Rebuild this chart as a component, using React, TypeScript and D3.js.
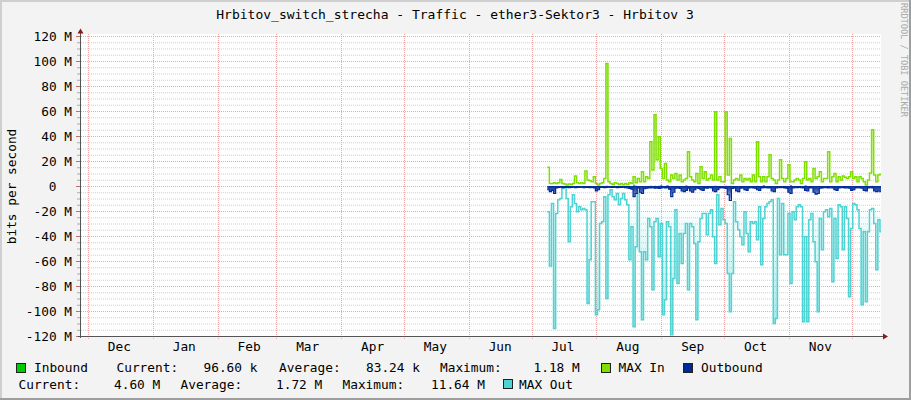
import React from "react";
import * as d3 from "d3";

const W = 911;
const H = 400;
const FONT = "'DejaVu Sans Mono', monospace";

const title = "Hrbitov_switch_strecha - Traffic - ether3-Sektor3 - Hrbitov 3";
const yAxisTitle = "bits per second";
const watermark = "RRDTOOL / TOBI OETIKER";

// y ticks in M (major every 20, minor every 5)
const yMajor = [-120, -100, -80, -60, -40, -20, 0, 20, 40, 60, 80, 100, 120];
const yMinor = d3.range(-120, 121, 5).filter((v) => v % 20 !== 0);

// time range of the graph
const rangeStart = new Date(Date.UTC(2022, 10, 27, 15, 42));
const rangeEnd = new Date(Date.UTC(2023, 11, 15, 0, 0));
const dataStart = Date.UTC(2023, 6, 8, 12, 0);
const DAY = 86400000;

// daily values in Mbit/s
const maxIn = [
  15, 2, 2, 2.7, 2, 2.7, 5.3, 2, 1.6, 0.8,
  1.6, 1.3, 2, 8, 2.7, 2, 2.7, 2, 12, 4.8,
  4.3, 3.5, 7.5, 2, 0.8, 2, 2.7, 6, 98, 3.5,
  2, 1.3, 2.7, 2, 1.3, 2, 1, 2, 1.3, 2.7,
  2, 7.5, 2.7, 6, 3.5, 11.5, 3.5, 7.5, 6, 35.5,
  12.8, 57, 21, 39.5, 14, 6, 18, 4.8, 3.5, 8.8,
  6, 10, 4.8, 8.8, 3.5, 4.8, 6, 27.5, 7.5, 4.8,
  3.5, 10, 2, 15.5, 6, 11.5, 4.8, 6, 8.8, 4.8,
  59.5, 4.8, 7.5, 3.5, 3.5, 59.5, 8.8, 38, 2, 4.8,
  6, 4.8, 8.8, 3.5, 6, 4.8, 6, 3.5, 8.8, 3.5,
  35.5, 7.5, 3.5, 7.5, 3.5, 7.5, 25, 6, 4.8, 2,
  4.8, 21, 6, 3.5, 6, 17, 3.5, 3.5, 4.8, 6,
  4.8, 2, 6, 19.5, 4.8, 6, 3.5, 14, 6, 7.5,
  11.5, 3.5, 6, 6, 27.5, 3.5, 7.5, 10, 3.5, 7.5,
  4.8, 8, 7, 6, 7.5, 11.5, 6, 7.5, 3.5, 7.5,
  6, 3.5, 0.8, 4.8, 10.5, 45, 8.8, 3.5, 8.8, 9.5,
];

const maxOut = [
  20.5, 64, 14, 114, 22, 11, 10, 2, 1, 10,
  44.5, 16.5, 7, 14, 20.5, 16.5, 19, 18, 19, 94,
  59, 12.5, 12.5, 103, 99, 30, 28.5, 8.5, 90, 7,
  3, 8.5, 11, 6, 15, 10, 6, 11, 15, 59,
  32.5, 112.5, 48.5, 6, 52.5, 107, 52.5, 59, 26, 32.5,
  83, 28.5, 26, 56.5, 30, 103, 91, 28.5, 32.5, 119,
  74, 19, 78, 38, 62, 38, 30, 83, 30, 32.5,
  46, 107, 44.5, 26, 22, 22, 39, 22, 19, 40.5,
  62, 7, 31, 18, 27, 30, 70, 100.5, 70, 12.5,
  28.5, 35, 40.5, 47, 20.5, 38, 52.5, 28.5, 30, 28.5,
  43, 16.5, 63, 26, 16.5, 14, 12.5, 11, 110, 106,
  10, 55, 14, 55, 55, 22, 78, 20.5, 27, 16.5,
  15, 16.5, 108.5, 40.5, 108.5, 27, 22, 44.5, 60.5, 100.5,
  26, 51, 20.5, 19, 24.5, 18, 76.5, 26, 58, 15,
  16.5, 51, 16.5, 26, 88.5, 34, 14, 15, 19, 34,
  95, 36.5, 92.5, 36.5, 19, 18, 30, 67, 27, 36.5,
];

const outbound = [
  3, 4.5, 3.5, 6, 1.5, 1.2, 1, 1.3, 1.1, 1.2,
  1.4, 1.2, 1, 1.3, 1.1, 1.2, 1, 1.4, 1.2, 1.1,
  1.3, 1.2, 1.5, 4, 3, 1.2, 1.1, 1.3, 1.2, 1,
  1.1, 1.2, 1, 1.3, 1.1, 1.2, 1, 1.4, 1.6, 2,
  2.5, 8.5, 6, 1.5, 5, 6, 2.2, 1.8, 1.5, 1.6,
  1.4, 1.8, 1.5, 2, 1.6, 1.4, 1.5, 1.3, 2.5, 8.5,
  5, 1.8, 1.5, 2, 4, 4.5, 3.5, 1.8, 4, 5,
  3, 1.6, 2, 3, 3.5, 1.5, 1.8, 1.4, 1.6, 4,
  4.5, 3, 1.5, 1.3, 1.6, 2, 7, 11.6, 2, 1.5,
  4, 4.5, 1.8, 1.5, 3, 3.5, 1.6, 1.4, 1.5, 1.7,
  3, 3.5, 1.5, 1.3, 1.4, 1.6, 1.5, 4, 4.5, 1.5,
  1.3, 1.4, 1.2, 1.5, 1.8, 5, 6, 1.6, 1.4, 1.3,
  1.2, 1.4, 1.5, 3.5, 4, 1.5, 1.6, 5, 6.5, 6,
  1.8, 1.5, 1.4, 1.3, 1.5, 1.4, 1.6, 3, 3.5, 1.5,
  1.4, 1.3, 1.5, 1.6, 1.8, 3.5, 3, 1.5, 1.4, 1.6,
  1.8, 3.5, 4, 1.5, 1.4, 1.6, 4, 4.5, 4, 4.6,
];

const inbound = [
  0.1, 0.1, 0.1, 0.1, 0.1, 0.1, 0.1, 0.1, 0.1, 0.1,
  0.1, 0.1, 0.1, 0.1, 0.1, 0.1, 0.1, 0.1, 0.1, 0.1,
  0.1, 0.1, 0.1, 0.1, 0.1, 0.1, 0.1, 0.1, 0.2, 0.1,
  0.1, 0.1, 0.1, 0.1, 0.1, 0.1, 0.1, 0.1, 0.1, 0.1,
  0.1, 1.18, 0.3, 0.1, 0.1, 0.1, 0.1, 0.1, 0.1, 0.2,
  0.1, 0.3, 0.1, 0.2, 0.9, 0.1, 0.1, 0.8, 0.1, 0.1,
  0.1, 0.1, 0.1, 0.1, 0.1, 0.1, 0.7, 0.1, 0.1, 0.1,
  0.1, 0.1, 0.1, 0.1, 0.1, 0.1, 0.1, 0.1, 0.1, 0.1,
  0.3, 0.1, 0.1, 0.1, 0.1, 0.3, 0.1, 0.2, 0.1, 0.1,
  0.1, 0.1, 0.1, 0.1, 0.1, 0.1, 0.1, 0.1, 0.1, 0.1,
  0.2, 0.1, 0.1, 0.8, 0.1, 0.1, 0.1, 0.1, 0.1, 0.1,
  0.1, 0.1, 0.1, 0.1, 0.1, 0.1, 0.9, 0.1, 0.1, 0.1,
  0.1, 0.1, 0.1, 0.7, 0.1, 0.1, 0.1, 0.1, 0.1, 0.1,
  0.1, 0.1, 0.1, 0.1, 0.1, 0.1, 0.1, 0.1, 0.1, 0.1,
  0.1, 0.1, 0.1, 0.1, 0.1, 0.1, 0.1, 0.1, 0.1, 0.1,
  0.1, 0.1, 0.1, 0.1, 0.1, 0.2, 0.1, 0.1, 0.1, 0.1,
];

// legend texts
const legendRow1 = [
  { text: "Inbound", x: 34 },
  { text: "Current:", x: 116.5 },
  { text: "96.60 k", x: 203.5 },
  { text: "Average:", x: 279 },
  { text: "83.24 k", x: 366 },
  { text: "Maximum:", x: 440 },
  { text: "1.18 M", x: 533.5 },
  { text: "MAX In", x: 618.5 },
  { text: "Outbound", x: 701 },
];
const legendRow2 = [
  { text: "Current:", x: 18.5 },
  { text: "4.60 M", x: 114 },
  { text: "Average:", x: 180.5 },
  { text: "1.72 M", x: 276 },
  { text: "Maximum:", x: 342.5 },
  { text: "11.64 M", x: 431 },
  { text: "MAX Out", x: 519 },
];

const C_IN = "#00CC00";
const C_MAXIN = "#7FE000";
const C_OUT = "#002A97";
const C_MAXOUT = "#4FD2D2";

type Pt = { t: Date; v: number };

function series(vals: number[], sign: number): Pt[] {
  const pts = vals.map((v, i) => ({ t: new Date(dataStart + i * DAY), v: sign * v }));
  pts.push({ t: new Date(dataStart + vals.length * DAY), v: sign * vals[vals.length - 1] });
  return pts;
}

function fmtY(v: number) {
  return v === 0 ? "0" : `${v} M`;
}

export default function App() {
  const plotL = 81;
  const plotR = 881;
  const plotT = 34;
  const plotB = 336;
  const x = d3.scaleUtc().domain([rangeStart, rangeEnd]).range([plotL, plotR]);
  const y = d3.scaleLinear().domain([-120, 120]).range([336, 36]);

  const line = d3
    .line<Pt>()
    .x((d) => x(d.t))
    .y((d) => y(d.v))
    .curve(d3.curveStepAfter);
  const area = d3
    .area<Pt>()
    .x((d) => x(d.t))
    .y0(y(0))
    .y1((d) => y(d.v))
    .curve(d3.curveStepAfter);

  const months = d3.utcMonth.range(d3.utcMonth.ceil(rangeStart), rangeEnd);
  const monthLabels = months
    .map((m) => ({ m, t: d3.utcDay.offset(m, 15) }))
    .filter((d) => d.t <= rangeEnd);
  const fmtMonth = d3.utcFormat("%b");

  const inPts = series(inbound, 1);
  const maxInPts = series(maxIn, 1);
  const outPts = series(outbound, -1);
  const maxOutPts = series(maxOut, -1);

  const charW = 7.71;

  return (
    <svg
      width={W}
      height={H}
      style={{ position: "absolute", left: 0, top: 0, display: "block" }}
      fontFamily={FONT}
    >
      <defs>
        <clipPath id="plotClip">
          <rect x={plotL} y={plotT} width={plotR - plotL} height={plotB - plotT} />
        </clipPath>
        <linearGradient id="outGrad" gradientUnits="userSpaceOnUse" x1={0} x2={0} y1={y(0)} y2={y(-12)}>
          <stop offset="0" stopColor={C_OUT} stopOpacity={1} />
          <stop offset="1" stopColor={C_OUT} stopOpacity={0.15} />
        </linearGradient>
        <linearGradient id="inGrad" gradientUnits="userSpaceOnUse" x1={0} x2={0} y1={y(0)} y2={y(2)}>
          <stop offset="0" stopColor={C_IN} stopOpacity={1} />
          <stop offset="1" stopColor={C_IN} stopOpacity={0.4} />
        </linearGradient>
        <linearGradient id="maxOutGrad" gradientUnits="userSpaceOnUse" x1={0} x2={0} y1={y(-15)} y2={y(-100)}>
          <stop offset="0" stopColor={C_MAXOUT} stopOpacity={0} />
          <stop offset="1" stopColor={C_MAXOUT} stopOpacity={0.45} />
        </linearGradient>
        <linearGradient id="maxInGrad" gradientUnits="userSpaceOnUse" x1={0} x2={0} y1={y(8)} y2={y(60)}>
          <stop offset="0" stopColor={C_MAXIN} stopOpacity={0} />
          <stop offset="1" stopColor={C_MAXIN} stopOpacity={0.45} />
        </linearGradient>
      </defs>

      {/* background and frame */}
      <rect x={0} y={0} width={W} height={H} fill="#F3F3F3" />
      <rect x={0} y={0} width={W} height={2} fill="#CFCFCF" />
      <rect x={0} y={0} width={2} height={H} fill="#CFCFCF" />
      <rect x={0} y={H - 2} width={W} height={2} fill="#9E9E9E" />
      <rect x={W - 2} y={0} width={2} height={H} fill="#9E9E9E" />

      {/* canvas */}
      <rect x={plotL} y={plotT} width={plotR - plotL} height={plotB - plotT} fill="#FFFFFF" />

      {/* minor grid */}
      {yMinor.map((v) => (
        <g key={`mi${v}`}>
          <line x1={plotL} x2={plotR} y1={y(v) + 0.5} y2={y(v) + 0.5} stroke="#CFCFCF" strokeDasharray="1 1" />
          <line x1={77} x2={81} y1={y(v) + 0.5} y2={y(v) + 0.5} stroke="#AAAAAA" />
        </g>
      ))}
      {/* major grid */}
      {yMajor.map((v) => (
        <g key={`ma${v}`}>
          <line x1={plotL} x2={plotR} y1={y(v) + 0.5} y2={y(v) + 0.5} stroke="#F2A5A5" strokeDasharray="1 1" />
          <line x1={76} x2={81} y1={y(v) + 0.5} y2={y(v) + 0.5} stroke="#C07070" />
        </g>
      ))}
      {months.map((m) => (
        <line
          key={`mo${+m}`}
          x1={Math.round(x(m)) + 0.5}
          x2={Math.round(x(m)) + 0.5}
          y1={plotT}
          y2={plotB + 3}
          stroke="#F2A5A5"
          strokeDasharray="1 1"
        />
      ))}

      {/* data */}
      <g clipPath="url(#plotClip)">
        <path d={area(maxInPts) || ""} fill="url(#maxInGrad)" />
        <path d={area(inPts) || ""} fill="url(#inGrad)" />
        <path d={line(maxInPts) || ""} fill="none" stroke={C_MAXIN} strokeWidth={1.5} />
        <path d={area(maxOutPts) || ""} fill="url(#maxOutGrad)" />
        <path d={line(maxOutPts) || ""} fill="none" stroke={C_MAXOUT} strokeWidth={1.5} />
        <path d={area(outPts) || ""} fill="url(#outGrad)" />
        <path d={line(outPts) || ""} fill="none" stroke={C_OUT} strokeWidth={1.2} />
      </g>

      {/* axes */}
      <line x1={80.5} x2={80.5} y1={plotB + 2} y2={31} stroke="#555555" />
      <path d="M77.5,33.5 L83.5,33.5 L80.5,28.5 Z" fill="#8B1A1A" />
      <line x1={78} x2={884} y1={336.5} y2={336.5} stroke="#555555" />
      <path d="M883,333.5 L883,339.5 L888,336.5 Z" fill="#8B1A1A" />

      {/* y tick labels */}
      {yMajor.map((v) => (
        <text
          key={`yl${v}`}
          x={72 - (v === 0 ? 2 * charW : 0)}
          y={y(v) + 4.5}
          textAnchor="end"
          fontSize={12.8}
          fill="#000"
        >
          {fmtY(v)}
        </text>
      ))}

      {/* month labels */}
      {monthLabels.map((d) => (
        <text key={`ml${+d.m}`} x={x(d.t)} y={350.5} textAnchor="middle" fontSize={12.8} fill="#000">
          {fmtMonth(d.m)}
        </text>
      ))}

      {/* title */}
      <text x={455} y={18.5} textAnchor="middle" fontSize={13} fill="#000">
        {title}
      </text>

      {/* y axis title */}
      <text
        transform={`translate(15.5,${(y(0) + 0.5).toFixed(1)}) rotate(-90)`}
        textAnchor="middle"
        fontSize={12.8}
        fill="#000"
      >
        {yAxisTitle}
      </text>

      {/* watermark */}
      <text
        transform="translate(900.5,60) rotate(90)"
        textAnchor="middle"
        fontSize={8.6}
        fill="#AAAAAA"
      >
        {watermark}
      </text>

      {/* legend */}
      <rect x={16.5} y={363.5} width={9} height={9} fill={C_IN} stroke="#222" />
      <rect x={601.5} y={363.5} width={9} height={9} fill={C_MAXIN} stroke="#222" />
      <rect x={683.5} y={363.5} width={9} height={9} fill={C_OUT} stroke="#222" />
      <rect x={503.5} y={379.5} width={9} height={9} fill={C_MAXOUT} stroke="#222" />
      {legendRow1.map((d, i) => (
        <text key={`l1${i}`} x={d.x} y={372} fontSize={12.8} fill="#000">
          {d.text}
        </text>
      ))}
      {legendRow2.map((d, i) => (
        <text key={`l2${i}`} x={d.x} y={388.5} fontSize={12.8} fill="#000">
          {d.text}
        </text>
      ))}
    </svg>
  );
}
